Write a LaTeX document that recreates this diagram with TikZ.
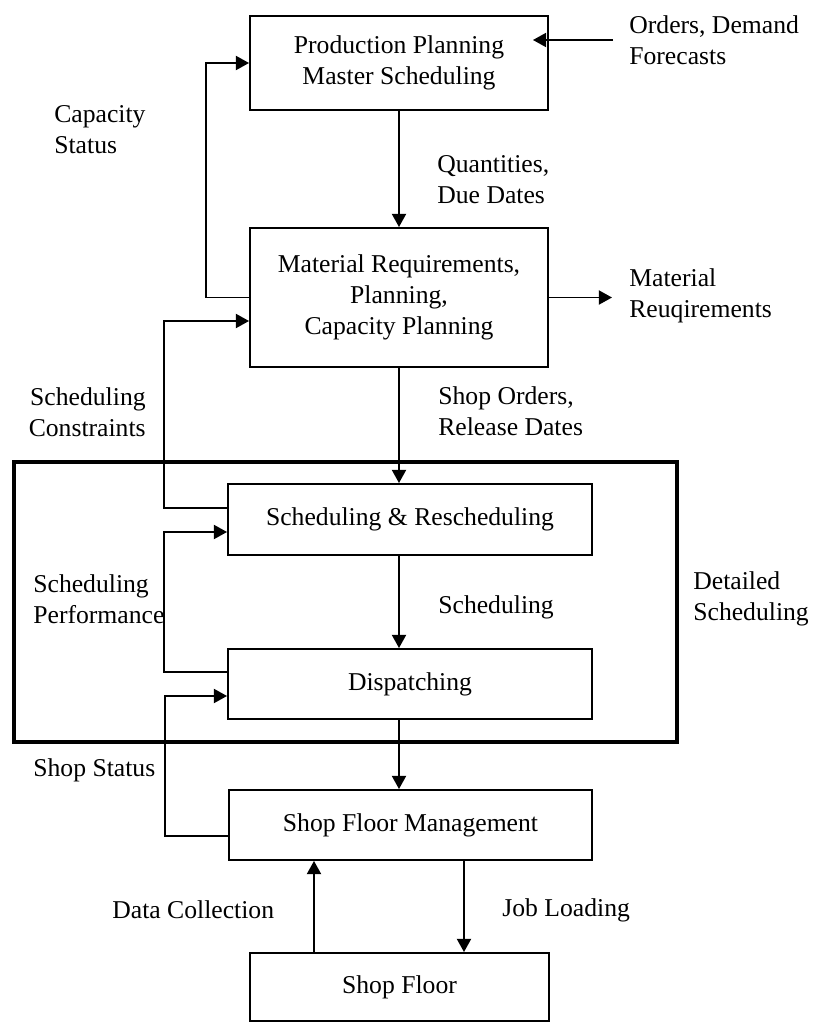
\documentclass[tikz,border=0pt]{standalone}
\usepackage{fontspec}
\setmainfont{Liberation Serif}
\usepackage{tikz}
\usetikzlibrary{positioning,arrows.meta,calc}

\begin{document}
\begin{tikzpicture}[
  font=\fontsize{14.6}{17.6}\selectfont,
  box/.style={draw, line width=1.1pt, align=center, inner sep=2pt},
  lbl/.style={inner sep=0pt, align=left},
  arr/.style={-{Triangle[length=7.5pt,width=8pt]}, line width=1.1pt},
]
\useasboundingbox (0,0) rectangle (16.28,-20.46);
\node[draw, line width=2.3pt, minimum width=13.26cm, minimum height=5.6cm, inner sep=0pt] (detail) at (6.91,-12.04) {};
\node[box, minimum width=5.96cm, minimum height=1.88cm] (pp) at (7.98,-1.26) {Production Planning\\Master Scheduling};
\node[box, minimum width=5.96cm, minimum height=2.78cm] (mrp) at (7.98,-5.95) {Material Requirements,\\Planning,\\Capacity Planning};
\node[box, minimum width=7.28cm, minimum height=1.42cm] (sched) at (8.2,-10.39) {Scheduling \& Rescheduling};
\node[box, minimum width=7.28cm, minimum height=1.40cm] (disp) at (8.2,-13.68) {Dispatching};
\node[box, minimum width=7.26cm, minimum height=1.40cm] (sfm) at (8.21,-16.5) {Shop Floor Management};
\node[box, minimum width=5.98cm, minimum height=1.36cm] (floor) at (7.99,-19.74) {Shop Floor};
\node[lbl, anchor=west] (orders) at (12.58,-0.8) {Orders, Demand\\Forecasts};
\node[lbl, anchor=west] (mreq) at (12.58,-5.91) {Material\\Reuqirements};
\node[lbl, anchor=west] (cap) at (1.08,-2.6) {Capacity\\Status};
\node[lbl, anchor=west] (qty) at (8.74,-3.6) {Quantities,\\Due Dates};
\node[lbl, anchor=east, align=right] (cons) at (2.92,-8.24) {Scheduling\\Constraints};
\node[lbl, anchor=west] (shop) at (8.76,-8.22) {Shop Orders,\\Release Dates};
\node[lbl, anchor=west] (perf) at (0.66,-11.98) {Scheduling\\Performance};
\node[lbl, anchor=west] (schedlbl) at (8.76,-12.14) {Scheduling};
\node[lbl, anchor=west] (detlbl) at (13.86,-11.98) {Detailed\\Scheduling};
\node[lbl, anchor=west] (status) at (0.66,-15.4) {Shop Status};
\node[lbl, anchor=west] (data) at (2.24,-18.2) {Data Collection};
\node[lbl, anchor=west] (job) at (10.04,-18.2) {Job Loading};
\draw[arr] (pp) -- (mrp);
\draw[arr] (mrp.south) -- (mrp.south |- sched.north);
\draw[arr] (mrp.south |- sched.south) -- (mrp.south |- disp.north);
\draw[arr] (mrp.south |- disp.south) -- (mrp.south |- sfm.north);
\draw[arr] ([xshift=1.29cm]floor.north |- sfm.south) -- ([xshift=1.29cm]floor.north);
\draw[arr] ([xshift=-1.71cm]floor.north) -- ([xshift=-1.71cm]floor.north |- sfm.south);
\draw[arr] ([xshift=-0.32cm]orders.west) -- ([xshift=-0.32cm]orders.west -| pp.east);
\draw[arr] (mrp.east) -- ([xshift=-0.34cm]mreq.west |- mrp.east);
\draw[arr] (mrp.west) -- ++(-0.86,0) |- (pp.west);
\draw[arr] ([yshift=0.23cm]sched.west) -- ++(-1.26,0) |- ([yshift=-0.47cm]mrp.west);
\draw[arr] ([yshift=0.24cm]disp.west) -- ++(-1.26,0) |- ([yshift=-0.25cm]sched.west);
\draw[arr] ([yshift=-0.22cm]sfm.west) -- ++(-1.26,0) |- ([yshift=-0.24cm]disp.west);
\end{tikzpicture}
\end{document}
